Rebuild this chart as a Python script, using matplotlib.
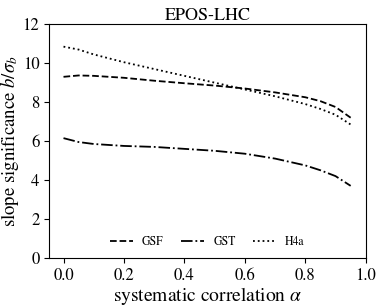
import matplotlib
matplotlib.use('Agg')
import matplotlib.pyplot as plt
import numpy as np

plt.rcParams['font.family'] = 'STIXGeneral'
plt.rcParams['mathtext.fontset'] = 'stix'

# Data
alpha = np.array([0.0, 0.05, 0.1, 0.2, 0.3, 0.4, 0.5, 0.6, 0.7, 0.8, 0.85, 0.9, 0.95])
gsf = np.array([9.3, 9.37, 9.35, 9.25, 9.1, 8.97, 8.85, 8.7, 8.5, 8.25, 8.05, 7.75, 7.2])
gst = np.array([6.15, 5.95, 5.85, 5.75, 5.7, 5.6, 5.5, 5.35, 5.1, 4.75, 4.5, 4.2, 3.7])
h4a = np.array([10.85, 10.7, 10.45, 10.05, 9.7, 9.35, 9.0, 8.65, 8.3, 7.9, 7.65, 7.35, 6.85])

fig = plt.figure(figsize=(3.81, 3.07), dpi=100)
ax = fig.add_axes([0.129, 0.16, 0.831, 0.761])

ax.plot(alpha, gsf, 'k--', lw=1.3, label='GSF')
ax.plot(alpha, gst, 'k-.', lw=1.3, label='GST')
ax.plot(alpha, h4a, 'k:', lw=1.3, label='H4a')

ax.set_ylim(0, 12)
ax.set_xticks([0.0, 0.2, 0.4, 0.6, 0.8, 1.0])
ax.tick_params(labelsize=12)
ax.set_xlabel(r'systematic correlation $\alpha$', fontsize=14, labelpad=1)
ax.set_ylabel(r'slope significance $b/\sigma_b$', fontsize=13.5, labelpad=1)
ax.set_title('EPOS-LHC', fontsize=13, pad=3)
ax.legend(loc='lower center', ncol=3, frameon=False, fontsize=8.5, handlelength=1.9,
          columnspacing=1.5, bbox_to_anchor=(0.5, -0.005))

fig.savefig('out.png', dpi=100)
